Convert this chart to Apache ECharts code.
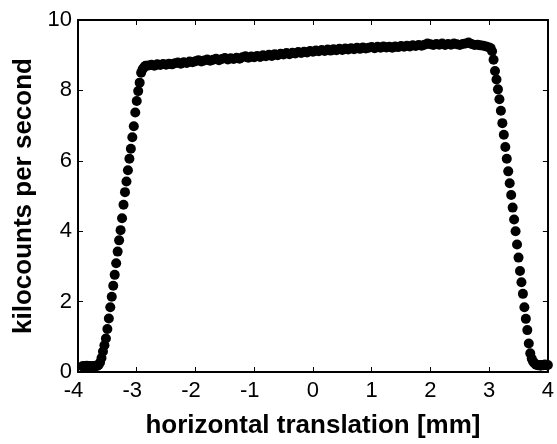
<!DOCTYPE html>
<html>
<head>
<meta charset="utf-8">
<script src="https://cdn.jsdelivr.net/npm/echarts@6/dist/echarts.min.js"></script>
<style>
html,body{margin:0;padding:0;background:#fff;}
#chart{width:557px;height:444px;}
</style>
</head>
<body>
<div id="chart"></div>
<script>
// x ticks and y ticks
const xTicks = [-4, -3, -2, -1, 0, 1, 2, 3, 4];
const yTicks = [0, 2, 4, 6, 8, 10];

// [translation mm, kilocounts per second]
const leftBaseline = [
  [-3.925,0.16],[-3.900,0.17],[-3.875,0.15],[-3.850,0.18],[-3.825,0.16],[-3.800,0.17],
  [-3.775,0.15],[-3.750,0.17],[-3.725,0.16],[-3.700,0.18],[-3.675,0.17]
];
const risingEdge = [
  [-3.650,0.20],[-3.625,0.27],[-3.600,0.40],[-3.575,0.58],[-3.550,0.76],[-3.525,0.95],
  [-3.500,1.22],[-3.475,1.52],[-3.450,1.84],[-3.425,2.14],[-3.400,2.45],[-3.375,2.76],
  [-3.350,3.09],[-3.325,3.42],[-3.300,3.74],[-3.275,4.03],[-3.250,4.37],[-3.225,4.75],
  [-3.200,5.11],[-3.175,5.41],[-3.150,5.73],[-3.125,6.06],[-3.100,6.34],[-3.075,6.67],
  [-3.050,6.98],[-3.025,7.37],[-3.000,7.70],[-2.975,7.98],[-2.950,8.22],[-2.925,8.50],
  [-2.900,8.60],[-2.875,8.66]
];
const plateau = [
  [-2.85,8.70],[-2.80,8.71],[-2.75,8.73],[-2.70,8.70],[-2.65,8.74],[-2.60,8.72],
  [-2.55,8.75],[-2.50,8.73],[-2.45,8.76],[-2.40,8.74],[-2.35,8.77],[-2.30,8.79],
  [-2.25,8.76],[-2.20,8.80],[-2.15,8.78],[-2.10,8.82],[-2.05,8.80],[-2.00,8.83],
  [-1.95,8.86],[-1.90,8.82],[-1.85,8.85],[-1.80,8.88],[-1.75,8.84],[-1.70,8.87],
  [-1.65,8.90],[-1.60,8.86],[-1.55,8.89],[-1.50,8.92],[-1.45,8.88],[-1.40,8.91],
  [-1.35,8.89],[-1.30,8.93],[-1.25,8.90],[-1.20,8.94],[-1.15,8.97],[-1.10,8.93],
  [-1.05,8.96],[-1.00,8.94],[-0.95,8.98],[-0.90,8.95],[-0.85,9.00],[-0.80,8.97],
  [-0.75,9.01],[-0.70,8.98],[-0.65,9.03],[-0.60,9.00],[-0.55,9.04],[-0.50,9.02],
  [-0.45,9.06],[-0.40,9.03],[-0.35,9.07],[-0.30,9.05],[-0.25,9.09],[-0.20,9.06],
  [-0.15,9.10],[-0.10,9.08],[-0.05,9.12],[0.00,9.10],[0.05,9.13],[0.10,9.11],
  [0.15,9.15],[0.20,9.12],[0.25,9.16],[0.30,9.13],[0.35,9.17],[0.40,9.14],
  [0.45,9.18],[0.50,9.15],[0.55,9.19],[0.60,9.16],[0.65,9.20],[0.70,9.17],
  [0.75,9.21],[0.80,9.18],[0.85,9.22],[0.90,9.19],[0.95,9.21],[1.00,9.23],
  [1.05,9.20],[1.10,9.24],[1.15,9.21],[1.20,9.25],[1.25,9.22],[1.30,9.24],
  [1.35,9.21],[1.40,9.25],[1.45,9.23],[1.50,9.26],[1.55,9.24],[1.60,9.27],
  [1.65,9.25],[1.70,9.28],[1.75,9.26],[1.80,9.29],[1.85,9.27],[1.90,9.30],
  [1.95,9.33],[2.00,9.31],[2.05,9.29],[2.10,9.32],[2.15,9.30],[2.20,9.33],
  [2.25,9.29],[2.30,9.32],[2.35,9.30],[2.40,9.33],[2.45,9.31],[2.50,9.29],
  [2.55,9.32],[2.60,9.33],[2.65,9.36],[2.70,9.32],[2.75,9.29],[2.80,9.30],
  [2.85,9.28],[2.90,9.27],[2.95,9.25],[3.00,9.22]
];
const fallingEdge = [
  [3.025,9.20],[3.050,9.11],[3.075,8.87],[3.100,8.55],[3.125,8.31],[3.150,8.03],
  [3.175,7.75],[3.200,7.42],[3.225,7.07],[3.250,6.74],[3.275,6.39],[3.300,6.06],
  [3.325,5.70],[3.350,5.36],[3.375,5.03],[3.400,4.67],[3.425,4.33],[3.450,4.00],
  [3.475,3.62],[3.500,3.25],[3.525,2.87],[3.550,2.55],[3.575,2.22],[3.600,1.84],
  [3.625,1.51],[3.650,1.19],[3.675,0.81],[3.700,0.53],[3.725,0.38],[3.750,0.29],
  [3.775,0.24]
];
const rightBaseline = [
  [3.800,0.21],[3.825,0.19],[3.850,0.20],[3.875,0.18],[3.900,0.20],[3.925,0.19],
  [3.950,0.21],[3.975,0.19],[4.000,0.20]
];

const FONT = '"Liberation Sans", Arial, Helvetica, sans-serif';
const allPoints = leftBaseline.concat(risingEdge, plateau, fallingEdge, rightBaseline);

const chart = echarts.init(document.getElementById('chart'), null, {renderer: 'canvas'});

const lineStyle = {color: '#000', width: 2};
const tickStyle = {inside: true, length: 5, lineStyle: {color: '#000', width: 1}};

chart.setOption({
  animation: false,
  backgroundColor: '#fff',
  grid: {left: 78, right: 6, top: 20, bottom: 68.5, containLabel: false},
  xAxis: [{
    type: 'value', min: xTicks[0], max: xTicks[xTicks.length - 1], interval: 1,
    position: 'bottom',
    axisLine: {show: true, onZero: false, lineStyle: lineStyle},
    axisTick: tickStyle,
    splitLine: {show: false},
    axisLabel: {
      margin: 8, fontSize: 22, color: '#000', fontFamily: FONT,
      formatter: v => v < 0 ? '{neg|' + v + '}' : String(v),
      rich: {neg: {fontSize: 22, color: '#000', fontFamily: FONT, padding: [0, 9, 0, 0]}}
    },
    name: 'horizontal translation [mm]', nameLocation: 'middle', nameGap: 41,
    nameTextStyle: {fontSize: 26, fontWeight: 'bold', color: '#000', fontFamily: FONT}
  }, {
    type: 'value', min: xTicks[0], max: xTicks[xTicks.length - 1], interval: 1,
    position: 'top',
    axisLine: {show: true, onZero: false, lineStyle: lineStyle},
    axisTick: tickStyle, axisLabel: {show: false}, splitLine: {show: false}
  }],
  yAxis: [{
    type: 'value', min: yTicks[0], max: yTicks[yTicks.length - 1], interval: 2,
    position: 'left',
    axisLine: {show: true, onZero: false, lineStyle: lineStyle},
    axisTick: tickStyle,
    splitLine: {show: false},
    axisLabel: {margin: 6, fontSize: 22, color: '#000', fontFamily: FONT},
    name: 'kilocounts per second', nameLocation: 'middle', nameGap: 40, nameRotate: 90,
    nameTextStyle: {fontSize: 26, fontWeight: 'bold', color: '#000', fontFamily: FONT}
  }, {
    type: 'value', min: yTicks[0], max: yTicks[yTicks.length - 1], interval: 2,
    position: 'right',
    axisLine: {show: true, onZero: false, lineStyle: lineStyle},
    axisTick: tickStyle, axisLabel: {show: false}, splitLine: {show: false}
  }],
  series: [{
    type: 'scatter',
    xAxisIndex: 0, yAxisIndex: 0,
    symbol: 'circle', symbolSize: 10,
    itemStyle: {color: '#000', opacity: 1},
    clip: false,
    data: allPoints
  }]
});
</script>
</body>
</html>
